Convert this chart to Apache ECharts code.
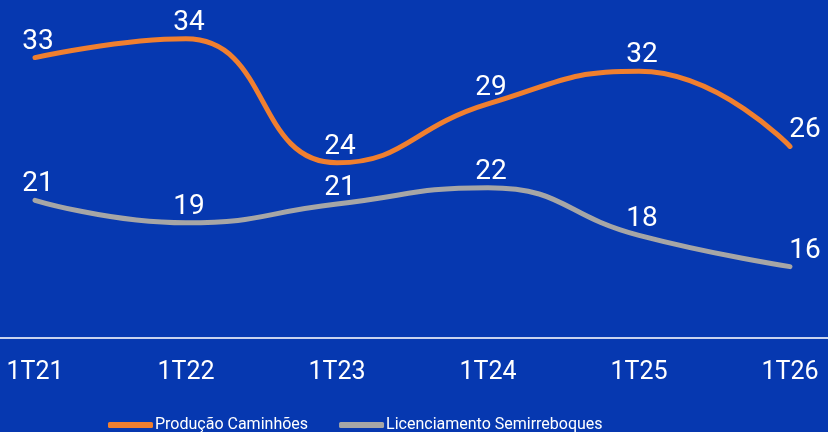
<!DOCTYPE html>
<html>
<head>
<meta charset="utf-8">
<script src="https://cdn.jsdelivr.net/npm/echarts@6/dist/echarts.min.js"></script>
<style>
  html, body { margin: 0; padding: 0; background: #0638b0; }
  #chart { width: 828px; height: 432px; }
</style>
</head>
<body>
<div id="chart"></div>
<script>
  const categories = ['1T21', '1T22', '1T23', '1T24', '1T25', '1T26']
  const producaoCaminhoes = [32.6, 34.1, 24.2, 28.9, 31.5, 25.5]
  const licenciamentoSemirreboques = [21.2, 19.4, 20.9, 22.2, 18.4, 15.9]

  const chart = echarts.init(document.getElementById('chart'))
  const font = 'Roboto, "DejaVu Sans", sans-serif'

  // last point label sits a bit to the right, like the original
  const withLastOffset = vals =>
    vals.map((v, i) => (i === vals.length - 1 ? { value: v, label: { offset: [15, 0] } } : { value: v, label: { offset: [3, 0] } }))

  const lineSeries = (name, vals, color) => ({
    name,
    type: 'line',
    data: withLastOffset(vals),
    smooth: 0.5,
    symbol: 'circle',
    symbolSize: 0.1,
    lineStyle: { color, width: 5, cap: 'round' },
    itemStyle: { color },
    label: {
      show: true,
      position: 'top',
      distance: 2,
      color: '#ffffff',
      fontSize: 28,
      fontFamily: font,
      formatter: p => Math.round(p.value)
    }
  })

  const option = {
    backgroundColor: '#0638b0',
    animation: false,
    grid: [
      { left: 35, right: 38, top: 0, bottom: 94 },
      // full-width grid only used for the baseline
      { left: 0, right: 0, top: 0, bottom: 94 }
    ],
    legend: {
      left: 103,
      top: 412,
      icon: 'roundRect',
      itemWidth: 45,
      itemHeight: 6,
      itemGap: 31,
      textStyle: { color: '#ffffff', fontSize: 16, fontFamily: font, padding: [0, 0, 0, -3] },
      data: ['Produção Caminhões', 'Licenciamento Semirreboques']
    },
    xAxis: [
      {
        type: 'category',
        gridIndex: 0,
        data: categories,
        boundaryGap: false,
        axisLine: { show: false },
        axisTick: { show: false },
        axisLabel: { color: '#ffffff', fontSize: 25, fontFamily: font, margin: 22 }
      },
      {
        type: 'value',
        gridIndex: 1,
        min: 0,
        max: 1,
        axisLine: { show: true, lineStyle: { color: '#c8d2ee', width: 2 } },
        axisTick: { show: false },
        axisLabel: { show: false },
        splitLine: { show: false }
      }
    ],
    yAxis: [
      { type: 'value', gridIndex: 0, min: 10.2, max: 37.2, show: false, splitLine: { show: false } },
      { type: 'value', gridIndex: 1, show: false, splitLine: { show: false } }
    ],
    series: [
      lineSeries('Produção Caminhões', producaoCaminhoes, '#f07f2f'),
      lineSeries('Licenciamento Semirreboques', licenciamentoSemirreboques, '#a6a6a6')
    ]
  }

  chart.setOption(option)
  window.addEventListener('resize', () => {
    chart.resize()
  })
</script>
</body>
</html>
